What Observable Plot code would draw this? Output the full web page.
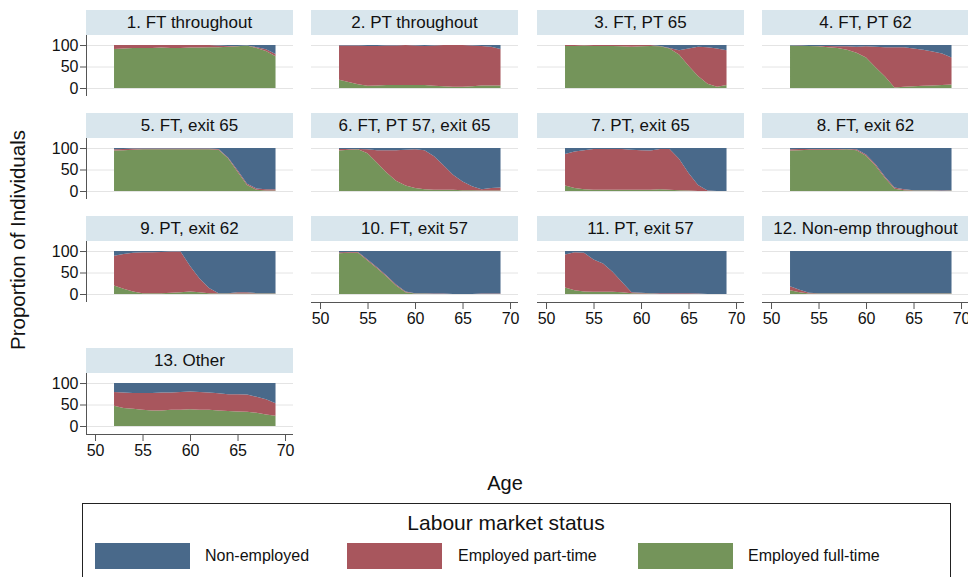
<!DOCTYPE html>
<html><head><meta charset="utf-8">
<script src="https://cdn.jsdelivr.net/npm/d3@7"></script>
<script src="https://cdn.jsdelivr.net/npm/@observablehq/plot@0.6"></script>
<style>
html,body{margin:0;padding:0;background:#fff;overflow:hidden;}
#chart{position:relative;width:968px;height:577px;overflow:hidden;font-family:"Liberation Sans",Arial,sans-serif;color:#111;}
.strip{position:absolute;height:25px;line-height:25px;text-align:center;font-size:17px;background:#d9e6ed;white-space:nowrap;}
.panel{position:absolute;}
.panel svg{overflow:visible;}
.lbl{position:absolute;white-space:nowrap;}
.sw{position:absolute;width:95px;height:26px;}
</style></head><body><div id="chart"></div>
<script>
const ages = [52,53,54,55,56,57,58,59,60,61,62,63,64,65,66,67,68,69];
const statusNames = ["Non-employed","Employed part-time","Employed full-time"];
const statusColors = ["#49698a","#a8565d","#74945a"];
const stackOrder = ["Employed full-time","Employed part-time","Non-employed"];
const panelTitles = ["1. FT throughout","2. PT throughout","3. FT, PT 65","4. FT, PT 62","5. FT, exit 65","6. FT, PT 57, exit 65","7. PT, exit 65","8. FT, exit 62","9. PT, exit 62","10. FT, exit 57","11. PT, exit 57","12. Non-emp throughout","13. Other"];
const yTicks = [0,50,100];
const xTicks = [50,55,60,65,70];

const p1_ft = [91,92,93,93,93,94,93,93,94,94,95,95,96,97,99,93,86,74];
const p1_pt = [9,8,7,7,7,6,7,7,6,6,5,4,2,1,0,2,4,5];
const p1_ne = [0,0,0,0,0,0,0,0,0,0,0,1,2,2,1,5,10,21];

const p2_ft = [19,14,9,5,6,7,7,7,7,7,5,4,3,3,4,6,6,6];
const p2_pt = [80,85,90,93,92,92,92,93,92,91,94,96,97,97,95,92,90,85];
const p2_ne = [1,1,1,2,2,1,1,0,1,2,1,0,0,0,1,2,4,9];

const p3_ft = [98,98,99,98,98,98,97,96,97,98,97,92,78,52,28,10,3,7];
const p3_pt = [2,2,1,2,2,2,3,4,3,2,1,1,10,40,68,85,89,81];
const p3_ne = [0,0,0,0,0,0,0,0,0,0,2,7,12,8,4,5,8,12];

const p4_ft = [99,98,98,97,95,93,89,82,71,48,27,1,3,4,5,6,7,8];
const p4_pt = [0,1,0,1,3,4,8,14,26,48,68,94,92,88,84,79,73,63];
const p4_ne = [1,1,2,2,2,3,3,4,3,4,5,5,5,8,11,15,20,29];

const p5_ft = [94,95,96,97,97,97,97,97,97,97,97,96,76,45,14,3,1,1];
const p5_pt = [3,3,3,2,2,2,2,2,2,2,2,2,2,3,3,3,3,3];
const p5_ne = [3,2,1,1,1,1,1,1,1,1,1,2,22,52,83,94,96,96];

const p6_ft = [94,96,97,88,66,43,24,13,7,4,3,3,3,2,2,1,1,1];
const p6_pt = [4,2,1,9,29,52,71,83,90,91,78,57,35,20,9,3,6,7];
const p6_ne = [2,2,2,3,5,5,5,4,3,5,19,40,62,78,89,96,93,92];

const p7_ft = [13,7,4,3,3,3,3,3,3,3,4,3,2,1,0,0,0,0];
const p7_pt = [73,85,91,95,95,95,95,93,92,91,94,95,73,41,14,1,0,0];
const p7_ne = [14,8,5,2,2,2,2,4,5,6,2,2,25,58,86,99,100,100];

const p8_ft = [94,95,96,96,96,96,97,95,82,59,30,5,2,1,1,1,0,1];
const p8_pt = [3,3,2,2,2,2,1,2,3,3,3,3,2,1,1,1,1,1];
const p8_ne = [3,2,2,2,2,2,2,3,15,38,67,92,96,98,98,98,99,98];

const p9_ft = [20,12,6,2,2,2,3,4,6,4,2,1,1,1,1,1,1,1];
const p9_pt = [69,81,90,95,95,96,96,95,59,32,12,1,1,3,3,1,1,1];
const p9_ne = [11,7,4,3,3,2,1,1,35,64,86,98,98,96,96,98,98,98];

const p10_ft = [95,96,96,78,60,41,20,4,1,1,0,0,0,0,0,0,0,0];
const p10_pt = [2,2,2,2,2,2,2,2,1,1,1,1,0,0,0,1,1,1];
const p10_ne = [3,2,2,20,38,57,78,94,98,98,99,99,100,100,100,99,99,99];

const p11_ft = [15,9,6,5,5,5,4,2,1,1,0,0,0,0,0,0,0,0];
const p11_pt = [77,88,90,75,66,47,24,2,2,1,2,2,2,2,1,0,0,0];
const p11_ne = [8,3,4,20,29,48,72,96,97,98,98,98,98,98,99,100,100,100];

const p12_ft = [9,4,1,1,1,1,1,1,1,1,1,1,1,1,1,1,1,1];
const p12_pt = [9,6,2,1,1,1,1,1,1,1,1,1,1,1,1,1,1,1];
const p12_ne = [82,90,97,98,98,98,98,98,98,98,98,98,98,98,98,98,98,98];

const p13_ft = [47,42,40,38,36,36,38,38,39,38,38,36,35,34,33,31,27,24];
const p13_pt = [32,36,37,39,41,42,40,41,41,41,40,40,39,40,40,37,35,29];
const p13_ne = [21,22,23,23,23,22,22,21,20,21,22,24,26,26,27,32,38,47];

const panelSeries = [
  [p1_ft,p1_pt,p1_ne],[p2_ft,p2_pt,p2_ne],[p3_ft,p3_pt,p3_ne],[p4_ft,p4_pt,p4_ne],
  [p5_ft,p5_pt,p5_ne],[p6_ft,p6_pt,p6_ne],[p7_ft,p7_pt,p7_ne],[p8_ft,p8_pt,p8_ne],
  [p9_ft,p9_pt,p9_ne],[p10_ft,p10_pt,p10_ne],[p11_ft,p11_pt,p11_ne],[p12_ft,p12_pt,p12_ne],
  [p13_ft,p13_pt,p13_ne]
];

// layout
const colX = [86,311,537,762];
const rowTop = [10,113,216,348];
const STRIP_H = 25, PANEL_W = 207, PLOT_H = 61;
const ML = 40, MR = 10, MB = 32;
const X_DOMAIN = [49.05,70.84];
const Y_DOMAIN = [-18.6,123.3];
const FONT = '"Liberation Sans", Arial, sans-serif';

const chart = document.getElementById("chart");

function addDiv(cls, css, text){
  const d = document.createElement("div");
  d.className = cls;
  Object.assign(d.style, css);
  if (text != null) d.textContent = text;
  chart.appendChild(d);
  return d;
}

panelTitles.forEach((title, i) => {
  const col = i % 4, row = Math.floor(i / 4);
  const x0 = colX[col], top = rowTop[row];
  const showX = (row === 2 && col > 0) || i === 12;
  const showY = col === 0;
  const [ft, pt, ne] = panelSeries[i];
  const data = [];
  ages.forEach((a, k) => {
    data.push({age:a, status:"Employed full-time", value:ft[k]});
    data.push({age:a, status:"Employed part-time", value:pt[k]});
    data.push({age:a, status:"Non-employed", value:ne[k]});
  });
  const marks = [
    Plot.gridY(yTicks, {stroke:"#e4e4e4", strokeOpacity:1, strokeWidth:1}),
    Plot.areaY(data, {x:"age", y:"value", fill:"status", order:stackOrder})
  ];
  if (showY) {
    marks.push(Plot.ruleX([X_DOMAIN[0]], {stroke:"#555", strokeWidth:1}));
    marks.push(Plot.axisY({ticks:yTicks, tickSize:6, tickPadding:2, label:null, stroke:"#555", fontSize:16}));
  }
  if (showX) {
    marks.push(Plot.ruleY([Y_DOMAIN[0]], {stroke:"#555", strokeWidth:1}));
    marks.push(Plot.axisX({ticks:xTicks, tickSize:7, tickPadding:3, label:null, stroke:"#555", fontSize:16}));
  }
  const svg = Plot.plot({
    width: ML + PANEL_W + MR,
    height: PLOT_H + MB,
    marginLeft: ML, marginRight: MR, marginTop: 0, marginBottom: MB,
    x: {domain: X_DOMAIN, axis: null},
    y: {domain: Y_DOMAIN, axis: null},
    color: {domain: statusNames, range: statusColors},
    style: {background:"transparent", fontSize:"16px", fontFamily:FONT, color:"#111", overflow:"visible", maxWidth:"none"},
    marks
  });
  const holder = addDiv("panel", {left:(x0 - ML)+"px", top:(top + STRIP_H)+"px", width:(ML+PANEL_W+MR)+"px"});
  holder.appendChild(svg);
  addDiv("strip", {left:x0+"px", top:top+"px", width:PANEL_W+"px"}, title);
});

// axis titles
addDiv("lbl", {left:"18px", top:"240px", fontSize:"20.5px", transform:"translate(-50%,-50%) rotate(-90deg)"}, "Proportion of Individuals");
addDiv("lbl", {left:"505px", top:"483px", fontSize:"20px", transform:"translate(-50%,-50%)"}, "Age");

// legend
addDiv("lbl", {left:"82px", top:"503px", width:"869px", height:"90px", border:"1px solid #222", boxSizing:"border-box"});
addDiv("lbl", {left:"506px", top:"523px", fontSize:"21px", transform:"translate(-50%,-50%)"}, "Labour market status");
const swX = [95,347,638];
const txX = [205,458,748];
statusNames.forEach((s, k) => {
  addDiv("sw", {left:swX[k]+"px", top:"543px", background:statusColors[k]});
  addDiv("lbl", {left:txX[k]+"px", top:"556px", fontSize:"16px", transform:"translateY(-50%)"}, s);
});
</script></body></html>
